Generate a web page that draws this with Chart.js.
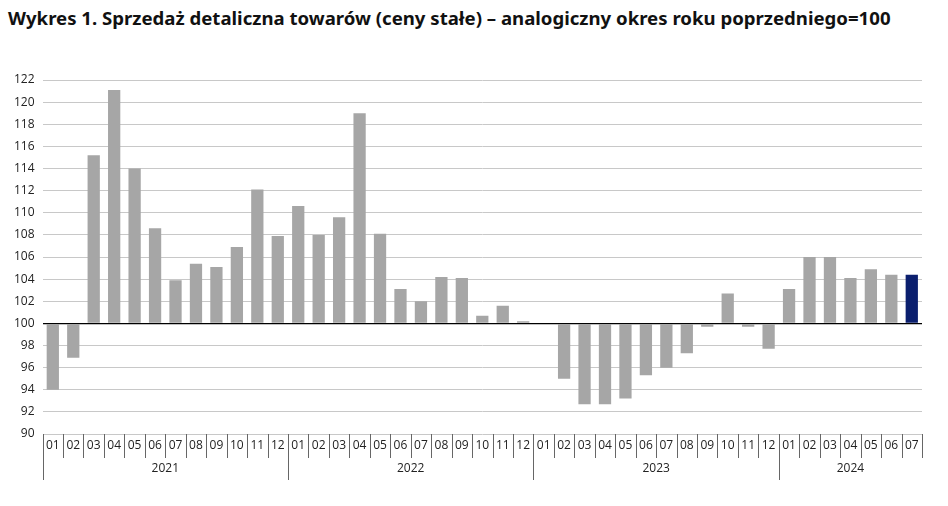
<!DOCTYPE html>
<html><head><meta charset="utf-8">
<script src="https://cdn.jsdelivr.net/npm/chart.js@4"></script>
<style>
body{margin:0;background:#fff;font-family:"Open Sans",sans-serif}
h1{margin:0;position:absolute;left:8px;top:5px;font-size:18.6px;font-weight:700;color:#111;font-family:"Noto Sans",sans-serif}
#wrap{position:absolute;left:0;top:60px;width:932px;height:430px}
</style></head><body>
<h1>Wykres 1. Sprzedaż detaliczna towarów (ceny stałe) – analogiczny okres roku poprzedniego=100</h1>
<div id="wrap"><canvas id="c"></canvas></div>
<script>
const years = ['2021', '2022', '2023', '2024'];
const months = ['01','02','03','04','05','06','07','08','09','10','11','12'];
const v2021 = [94.0, 96.9, 115.2, 121.1, 114.0, 108.6, 103.9, 105.4, 105.1, 106.9, 112.1, 107.9];
const v2022 = [110.6, 108.0, 109.6, 119.0, 108.1, 103.1, 102.0, 104.2, 104.1, 100.7, 101.6, 100.2];
const v2023 = [100.0, 95.0, 92.7, 92.7, 93.2, 95.3, 96.0, 97.3, 99.7, 102.7, 99.7, 97.7];
const v2024 = [103.1, 106.0, 106.0, 104.1, 104.9, 104.4, 104.4];

const values = [...v2021, ...v2022, ...v2023, ...v2024];
const labels = [];
[v2021, v2022, v2023, v2024].forEach(arr => arr.forEach((_, j) => labels.push(months[j])));
const colors = values.map((_, i) => i === values.length - 1 ? '#0b1f6e' : '#a6a6a6');

const axisPlugin = {
  id: 'axisGroups',
  afterDraw(chart) {
    const ctx = chart.ctx, x = chart.scales.x, area = chart.chartArea;
    const step = x.getPixelForValue(1) - x.getPixelForValue(0);
    const bottom = area.bottom;
    ctx.save();
    ctx.strokeStyle = '#666';
    ctx.lineWidth = 1;
    ctx.fillStyle = '#222';
    ctx.font = '12px "Open Sans"';
    ctx.textAlign = 'center';
    ctx.textBaseline = 'middle';
    let idx = 0;
    [v2021, v2022, v2023, v2024].forEach((arr, yi) => {
      const start = idx;
      arr.forEach((_, j) => {
        const cx = x.getPixelForValue(idx);
        ctx.fillText(months[j], cx, bottom + 12);
        const lx = Math.round(cx - step / 2) + 0.5;
        ctx.beginPath();
        ctx.moveTo(lx, bottom);
        ctx.lineTo(lx, j === 0 ? bottom + 46 : bottom + 24);
        ctx.stroke();
        idx++;
      });
      const mid = (x.getPixelForValue(start) + x.getPixelForValue(idx - 1)) / 2;
      ctx.fillText(years[yi], mid, bottom + 35);
    });
    const ex = Math.round(x.getPixelForValue(idx - 1) + step / 2) + 0.5;
    ctx.beginPath();
    ctx.moveTo(ex, bottom);
    ctx.lineTo(ex, bottom + 24);
    ctx.stroke();
    ctx.restore();
  }
};

new Chart(document.getElementById('c'), {
  type: 'bar',
  data: {
    labels: labels,
    datasets: [{
      data: values,
      base: 100,
      backgroundColor: colors,
      barPercentage: 0.6,
      categoryPercentage: 1.0
    }]
  },
  options: {
    responsive: true,
    maintainAspectRatio: false,
    animation: false,
    layout: { padding: { left: 6, right: 10, top: 20, bottom: 48 } },
    plugins: { legend: { display: false }, tooltip: { enabled: false } },
    scales: {
      x: {
        grid: { display: false },
        border: { display: false },
        ticks: { display: false }
      },
      y: {
        min: 90, max: 122,
        ticks: { stepSize: 2, color: '#222', font: { size: 12, family: 'Open Sans' }, padding: 8 },
        border: { display: false },
        grid: {
          drawTicks: false,
          color: c => c.tick.value === 100 ? '#000' : '#c8c8c8',
          lineWidth: c => c.tick.value === 100 ? 1.2 : 1
        }
      }
    }
  },
  plugins: [axisPlugin]
});
</script>
</body></html>
